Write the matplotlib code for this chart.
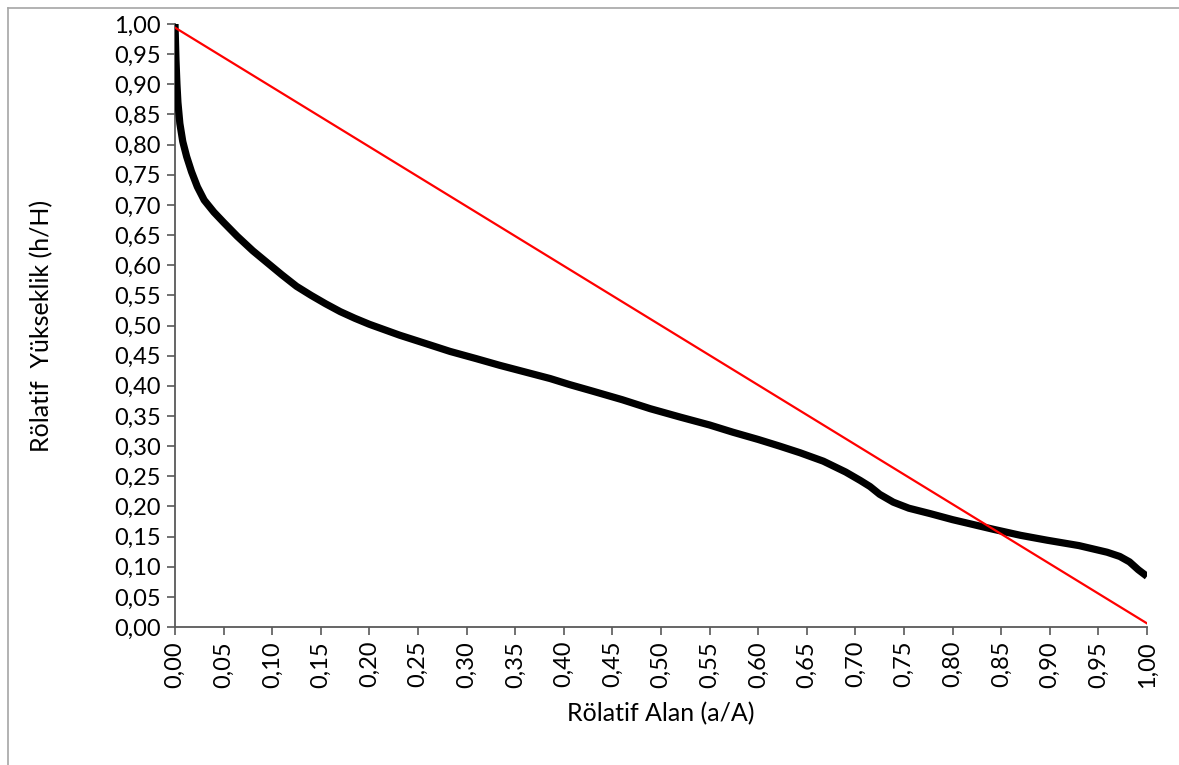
import matplotlib
matplotlib.use("Agg")
import matplotlib.pyplot as plt
from matplotlib.lines import Line2D

# Data
area_rel = [0.0, 0.0005, 0.001, 0.002, 0.003, 0.005, 0.008, 0.012, 0.017, 0.023,
            0.030, 0.040, 0.050, 0.064, 0.080, 0.098, 0.110, 0.125, 0.140, 0.155,
            0.170, 0.185, 0.200, 0.231, 0.260, 0.283, 0.310, 0.334, 0.360, 0.386,
            0.406, 0.430, 0.460, 0.489, 0.520, 0.550, 0.574, 0.600, 0.622, 0.643,
            0.667, 0.690, 0.705, 0.715, 0.725, 0.739, 0.755, 0.777, 0.800, 0.842,
            0.870, 0.897, 0.930, 0.959, 0.972, 0.982, 0.991, 1.0]
height_rel = [1.0, 0.97, 0.94, 0.90, 0.87, 0.835, 0.805, 0.78, 0.755, 0.73,
              0.708, 0.688, 0.671, 0.648, 0.624, 0.600, 0.584, 0.565, 0.550, 0.536,
              0.523, 0.512, 0.502, 0.484, 0.469, 0.457, 0.445, 0.434, 0.423, 0.412,
              0.402, 0.391, 0.377, 0.362, 0.348, 0.335, 0.323, 0.311, 0.300, 0.289,
              0.275, 0.257, 0.243, 0.233, 0.220, 0.207, 0.197, 0.188, 0.178, 0.162,
              0.152, 0.144, 0.135, 0.124, 0.117, 0.108, 0.095, 0.084]
ref_x = [0.0, 1.0]
ref_y = [0.994, 0.006]
ticks = [round(i * 0.05, 2) for i in range(21)]
tick_labels = [f"{t:.2f}".replace(".", ",") for t in ticks]

plt.rcParams['font.family'] = ['Lato', 'DejaVu Sans']

fig = plt.figure(figsize=(11.79, 7.65), dpi=100)
ax = fig.add_axes([175/1179, 1-627/765, (1147-175)/1179, (627-24)/765])

ax.plot(area_rel, height_rel, color='black', lw=5.2, solid_capstyle='butt',
        solid_joinstyle='round', zorder=3)
ax.plot(ref_x, ref_y, color='#ff0000', lw=1.6, zorder=4)

ax.set_xlim(0, 1)
ax.set_ylim(0, 1)
ax.set_xticks(ticks)
ax.set_xticklabels(tick_labels, rotation=90, fontsize=17)
ax.set_yticks(ticks)
ax.set_yticklabels(tick_labels, fontsize=17)
for s in ['top', 'right']:
    ax.spines[s].set_visible(False)
for s in ['left', 'bottom']:
    ax.spines[s].set_color('#595959')
    ax.spines[s].set_linewidth(1.3)
ax.tick_params(axis='both', direction='out', length=6, width=1.2, color='#595959',
               labelcolor='black', pad=4)

ax.set_xlabel("Rölatif Alan (a/A)", fontsize=18, labelpad=10)
ax.set_ylabel("Rölatif  Yükseklik (h/H)", fontsize=18, labelpad=44)

# outer chart border (top and left)
fig.add_artist(Line2D([8/1179, 1.0], [1-7.5/765, 1-7.5/765], transform=fig.transFigure,
                      color='#a6a6a6', lw=1.2))
fig.add_artist(Line2D([8/1179, 8/1179], [0, 1-7.5/765], transform=fig.transFigure,
                      color='#a6a6a6', lw=1.2))

fig.savefig("out.png", dpi=100)
